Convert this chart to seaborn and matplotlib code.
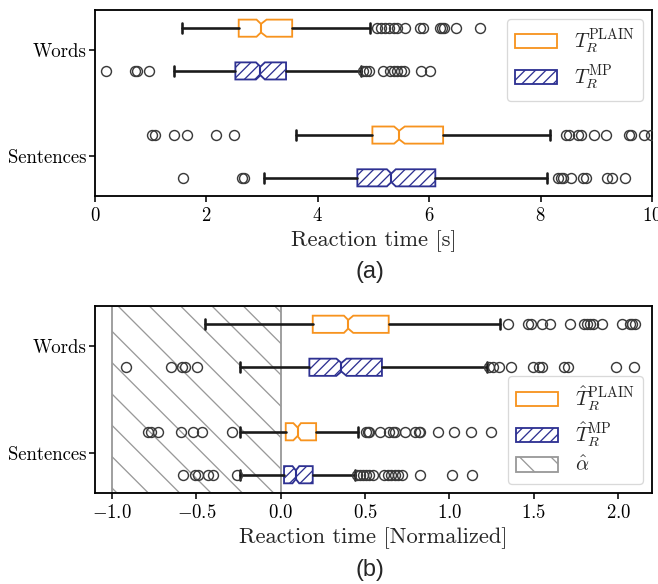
import matplotlib
matplotlib.use("Agg")
import matplotlib.pyplot as plt
import matplotlib.patches as mpatches
import seaborn as sns

# --- data ---
categories = ["Words", "Sentences"]
orange = "#f7931e"
navy = "#2e3192"

# panel (a): reaction time [s]
a_plain_med = [2.98, 5.46]
a_plain_q1 = [2.58, 4.98]
a_plain_q3 = [3.54, 6.25]
a_plain_lo = [1.56, 3.61]
a_plain_hi = [4.94, 8.16]
a_plain_ci = [(2.90, 3.08), (5.37, 5.56)]
a_plain_fliers = [
    [5.07, 5.13, 5.21, 5.28, 5.36, 5.43, 5.56, 5.84, 5.89, 6.19, 6.23, 6.26, 6.49, 6.92],
    [1.02, 1.07, 1.41, 1.66, 2.17, 2.49, 8.46, 8.51, 8.67, 8.72, 8.95, 9.18, 9.58, 9.63, 9.86, 9.98],
]
a_mp_med = [2.97, 5.32]
a_mp_q1 = [2.52, 4.71]
a_mp_q3 = [3.43, 6.11]
a_mp_lo = [1.41, 3.04]
a_mp_hi = [4.78, 8.12]
a_mp_ci = [(2.89, 3.05), (5.24, 5.40)]
a_mp_fliers = [
    [0.20, 0.71, 0.76, 0.97, 4.81, 4.86, 4.92, 5.17, 5.30, 5.36, 5.43, 5.49, 5.54, 5.85, 6.02],
    [1.58, 2.64, 2.68, 8.31, 8.36, 8.41, 8.54, 8.77, 8.82, 9.20, 9.29, 9.51],
]

# panel (b): normalized reaction time
b_plain_med = [0.40, 0.10]
b_plain_q1 = [0.19, 0.03]
b_plain_q3 = [0.64, 0.21]
b_plain_lo = [-0.45, -0.24]
b_plain_hi = [1.30, 0.46]
b_plain_ci = [(0.375, 0.43), (0.075, 0.12)]
b_plain_fliers = [
    [1.345, 1.463, 1.485, 1.549, 1.593, 1.716, 1.797, 1.815, 1.830, 1.851, 1.901, 2.024, 2.067, 2.082, 2.099],
    [-0.784, -0.767, -0.728, -0.591, -0.519, -0.466, -0.289,
     0.504, 0.515, 0.526, 0.591, 0.644, 0.666, 0.677, 0.737, 0.795, 0.817, 0.828, 0.931, 1.028, 1.129, 1.248],
]
b_mp_med = [0.36, 0.09]
b_mp_q1 = [0.17, 0.02]
b_mp_q3 = [0.60, 0.19]
b_mp_lo = [-0.24, -0.24]
b_mp_hi = [1.22, 0.44]
b_mp_ci = [(0.33, 0.39), (0.07, 0.11)]
b_mp_fliers = [
    [-0.918, -0.649, -0.584, -0.569, -0.498, 1.237, 1.259, 1.291, 1.366, 1.496, 1.528, 1.549, 1.679, 1.700, 1.987, 2.095],
    [-0.578, -0.509, -0.491, -0.433, -0.401, -0.261,
     0.450, 0.472, 0.487, 0.504, 0.526, 0.547, 0.612, 0.634, 0.655, 0.677, 0.698, 0.720, 0.828, 1.017, 1.136],
]
alpha_span = (-1.0, 0.0)

# --- style ---
sns.set_style("ticks")
plt.rcParams.update({
    "font.family": ["cmr10"],
    "mathtext.fontset": "cm",
    "axes.formatter.use_mathtext": True,
    "axes.unicode_minus": True,
    "hatch.linewidth": 0.5,
    "axes.edgecolor": "black",
    "axes.linewidth": 0.7,
    "xtick.major.size": 2.2,
    "ytick.major.size": 2.2,
    "xtick.major.width": 0.6,
    "ytick.major.width": 0.6,
    "xtick.major.pad": 2.0,
    "ytick.major.pad": 1.0,
    "xtick.labelsize": 7.2,
    "ytick.labelsize": 7.2,
    "xtick.color": "black",
    "ytick.color": "black",
})


def make_stats(med, q1, q3, lo, hi, ci, fliers):
    return [dict(med=med[i], q1=q1[i], q3=q3[i], whislo=lo[i], whishi=hi[i],
                 cilo=ci[i][0], cihi=ci[i][1], fliers=fliers[i])
            for i in range(len(med))]


def draw_boxes(ax, stats, pos, color, hatch):
    ax.bxp(stats, positions=pos, widths=0.16, capwidths=0.09, orientation="horizontal",
           shownotches=True, patch_artist=True,
           boxprops=dict(edgecolor=color, facecolor="white", hatch=hatch, linewidth=0.7),
           medianprops=dict(color=color, linewidth=0.8),
           whiskerprops=dict(color="#1a1a1a", linewidth=1.0),
           capprops=dict(color="#1a1a1a", linewidth=1.0),
           flierprops=dict(marker="o", markerfacecolor="none", markeredgecolor="#3a3a3a",
                           markersize=3.8, markeredgewidth=0.55),
           zorder=3)


fig = plt.figure(figsize=(658 / 188, 584 / 188), dpi=188)
W, H = 658, 584
ax1 = fig.add_axes([95 / W, 1 - 196 / H, 557 / W, 186 / H])
ax2 = fig.add_axes([95 / W, 1 - 493 / H, 557 / W, 187 / H])

words_pos = [-0.2, 0.8]
mp_pos = [0.2, 1.2]
mp_hatch = "//////"
alpha_hatch = "\\\\"

draw_boxes(ax1, make_stats(a_plain_med, a_plain_q1, a_plain_q3, a_plain_lo, a_plain_hi, a_plain_ci, a_plain_fliers),
           words_pos, orange, None)
draw_boxes(ax1, make_stats(a_mp_med, a_mp_q1, a_mp_q3, a_mp_lo, a_mp_hi, a_mp_ci, a_mp_fliers),
           mp_pos, navy, mp_hatch)

ax2.axvspan(*alpha_span, facecolor="none", edgecolor="#999999", hatch=alpha_hatch, linewidth=0.7, zorder=1)
draw_boxes(ax2, make_stats(b_plain_med, b_plain_q1, b_plain_q3, b_plain_lo, b_plain_hi, b_plain_ci, b_plain_fliers),
           words_pos, orange, None)
draw_boxes(ax2, make_stats(b_mp_med, b_mp_q1, b_mp_q3, b_mp_lo, b_mp_hi, b_mp_ci, b_mp_fliers),
           mp_pos, navy, mp_hatch)

for ax in (ax1, ax2):
    ax.set_ylim(1.37, -0.37)
    ax.set_yticks([0, 1])
    ax.set_yticklabels(categories)
    for s in ax.spines.values():
        s.set_visible(True)

ax1.set_xlim(0, 10)
ax1.set_xticks([0, 2, 4, 6, 8, 10])
ax1.set_xlabel("Reaction time [s]", fontsize=8.6, labelpad=2)
ax2.set_xlim(-1.1, 2.2)
ax2.set_xticks([-1.0, -0.5, 0.0, 0.5, 1.0, 1.5, 2.0])
ax2.set_xticklabels(["$-1.0$", "$-0.5$", "$0.0$", "$0.5$", "$1.0$", "$1.5$", "$2.0$"])
ax2.set_xlabel("Reaction time [Normalized]", fontsize=8.6, labelpad=2)

h_plain = mpatches.Patch(facecolor="white", edgecolor=orange, linewidth=0.7)
h_mp = mpatches.Patch(facecolor="white", edgecolor=navy, hatch=mp_hatch, linewidth=0.7)
h_alpha = mpatches.Patch(facecolor="white", edgecolor="#999999", hatch=alpha_hatch, linewidth=0.7)

leg_kw = dict(fontsize=7.8, handlelength=2.05, handleheight=0.7, handletextpad=0.85,
              labelspacing=0.35, borderpad=0.4, borderaxespad=0.45,
              fancybox=True, framealpha=0.8, edgecolor="#d0d0d0")
leg1 = ax1.legend([h_plain, h_mp], [r"$T_R^{\mathrm{PLAIN}}$", r"$T_R^{\mathrm{MP}}$"],
                  loc="upper right", **leg_kw)
leg2 = ax2.legend([h_plain, h_mp, h_alpha],
                  [r"$\hat{T}_R^{\mathrm{PLAIN}}$", r"$\hat{T}_R^{\mathrm{MP}}$", r"$\hat{\alpha}$"],
                  loc="lower right", **leg_kw)
for leg in (leg1, leg2):
    leg.get_frame().set_linewidth(0.5)

fig.text(370 / W, 1 - 272 / H, "(a)", family="Liberation Sans", fontsize=9, ha="center", va="center")
fig.text(370 / W, 1 - 570 / H, "(b)", family="Liberation Sans", fontsize=9, ha="center", va="center")

fig.savefig("out.png", dpi=188)
